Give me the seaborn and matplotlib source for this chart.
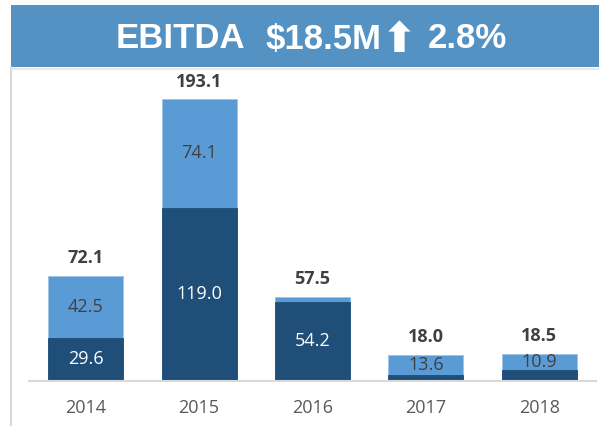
import matplotlib
matplotlib.use("Agg")
import matplotlib.pyplot as plt
import seaborn as sns
import pandas as pd
from matplotlib.patches import Rectangle
from matplotlib.lines import Line2D

years = ["2014", "2015", "2016", "2017", "2018"]
bottom_vals = [29.6, 119.0, 54.2, 4.4, 7.6]
top_vals = [42.5, 74.1, 3.3, 13.6, 10.9]
totals = [72.1, 193.1, 57.5, 18.0, 18.5]
bottom_labels = ["29.6", "119.0", "54.2", "", ""]
top_labels = ["42.5", "74.1", "", "13.6", "10.9"]
title_parts = ["EBITDA", "$18.5M", "⬆", "2.8%"]

sns.set_theme(style="white")
plt.rcParams['font.family'] = ['Open Sans', 'DejaVu Sans']

W, H = 599, 426
fig = plt.figure(figsize=(W / 100, H / 100), dpi=100)

dark = "#1F4E79"
light = "#5B9BD5"
banner = "#5592C4"

ax = fig.add_axes([29 / W, (H - 381) / H, (596 - 29) / W, (381 - 69) / H])

df = pd.DataFrame({"year": years, "bottom": bottom_vals, "top": top_vals, "total": totals})
sns.barplot(data=df, x="year", y="total", color=light, width=0.66, ax=ax, saturation=1,
            edgecolor="#9DC3E6", linewidth=0.6)
sns.barplot(data=df, x="year", y="bottom", color=dark, width=0.66, ax=ax, saturation=1,
            edgecolor=dark, linewidth=0.6)

ax.set_xlim(-0.5, 4.5)
ax.set_ylim(0, 214)
ax.set_xlabel("")
ax.set_ylabel("")
ax.set_yticks([])
for s in ["top", "right", "left"]:
    ax.spines[s].set_visible(False)
ax.spines["bottom"].set_color("#D9D9D9")
ax.spines["bottom"].set_linewidth(1.5)
ax.tick_params(axis="x", length=0, pad=13, labelsize=13, labelcolor="#595959")

for i in range(len(years)):
    if bottom_labels[i]:
        ax.text(i, bottom_vals[i] / 2, bottom_labels[i], ha="center", va="center",
                color="white", fontsize=13)
    if top_labels[i]:
        ax.text(i, bottom_vals[i] + top_vals[i] / 2, top_labels[i], ha="center", va="center",
                color="#404040", fontsize=13)
    ax.text(i, totals[i] + 6, f"{totals[i]:.1f}", ha="center", va="bottom",
            color="#404040", fontsize=13, fontweight="bold")

# banner
fig.patches.append(Rectangle((11 / W, (H - 67) / H), 1 - 11 / W, 62 / H,
                             transform=fig.transFigure, facecolor=banner,
                             edgecolor="none", zorder=0))
# frame lines
fig.lines.append(Line2D([11 / W, 11 / W], [0, (H - 67) / H], transform=fig.transFigure,
                        color="#D9D9D9", linewidth=1.5))
fig.lines.append(Line2D([11 / W, 1], [(H - 68.5) / H, (H - 68.5) / H], transform=fig.transFigure,
                        color="#E4E4E4", linewidth=1.2))

ty = (H - 39) / H
fam = ['Liberation Sans', 'DejaVu Sans']
fig.text(180 / W, ty, title_parts[0], ha="center", va="center", color="white",
         fontsize=25, fontweight="bold", family=fam)
fig.text(324 / W, ty, title_parts[1], ha="center", va="center", color="white",
         fontsize=25, fontweight="bold", family=fam)
fig.text(399 / W, ty - 1 / H, title_parts[2], ha="center", va="center", color="white",
         fontsize=30, fontweight="bold", family=['DejaVu Sans'])
fig.text(467 / W, ty, title_parts[3], ha="center", va="center", color="white",
         fontsize=25, fontweight="bold", family=fam)

fig.savefig("out.png", dpi=100)
